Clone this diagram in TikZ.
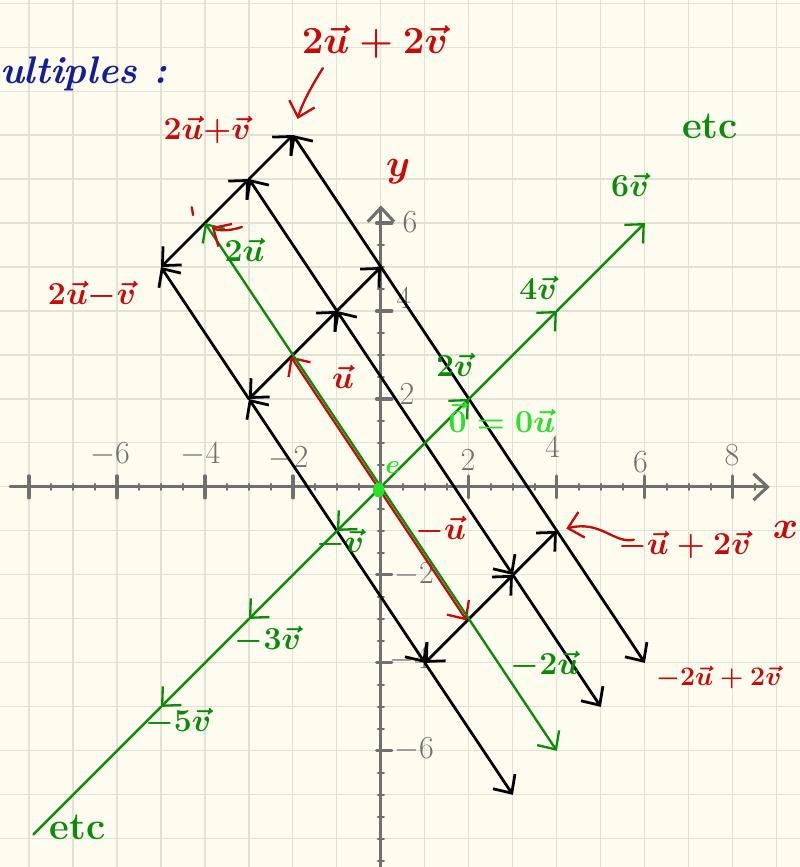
\documentclass[tikz,border=0pt]{standalone}
\usetikzlibrary{arrows.meta}

\definecolor{paper}{RGB}{253,252,238}
\definecolor{gridc}{RGB}{226,225,214}
\definecolor{axgray}{RGB}{112,112,112}
\definecolor{ired}{RGB}{200,10,10}
\definecolor{igreen}{RGB}{10,140,10}
\definecolor{lgreen}{RGB}{40,225,40}
\definecolor{iblue}{RGB}{20,30,150}

\begin{document}
\begin{tikzpicture}[line cap=round,line join=round,inner sep=1pt,
    tip/.style={-{Straight Barb[length=3.2mm,width=6mm]}},
    blk/.style={draw=black,line width=1.8pt},
    grn/.style={draw=igreen,line width=1.5pt},
    rd/.style={draw=ired,line width=1.5pt},
    axis/.style={draw=axgray,line width=2pt},
    redlab/.style={text=ired,font=\huge\boldmath},
    grnlab/.style={text=igreen,font=\huge\boldmath},
    ticklab/.style={text=axgray,font=\huge}]
    %
    \useasboundingbox (-8.66,-8.64) rectangle (9.52,11.07);
    \fill[paper] (-8.66,-8.64) rectangle (9.52,11.07);
    \draw[gridc,line width=0.7pt] (-8.66,-8.64) grid (9.52,11.07);
    %
    % axes
    \draw[axis,tip] (-8.43,0) -- (8.84,0);
    \draw[axis,tip] (0,-8.7) -- (0,6.4);
    \foreach \x in {-8,-6,...,8}
        \draw[axis] (\x,-0.25) -- (\x,0.25);
    \foreach \x in {-8,-7.5,...,8.5}
        \draw[axis,line width=1.2pt] (\x,-0.07) -- (\x,0.07);
    \foreach \y in {-6,-4,-2,2,4,6}
        \draw[axis] (-0.1,\y) -- (0.25,\y);
    \foreach \y in {-8.5,-8,...,6}
        \draw[axis,line width=1.2pt] (-0.07,\y) -- (0.07,\y);
    \node[ticklab] (tx1) at (-6.16,0.73) {$-6$};
    \node[ticklab] (tx2) at (-4.1,0.73) {$-4$};
    \node[ticklab] (tx3) at (-2.1,0.65) {$-2$};
    \node[ticklab] (tx4) at (1.98,0.61) {$2$};
    \node[ticklab] (tx5) at (3.9,0.9) {$4$};
    \node[ticklab] (tx6) at (5.9,0.57) {$6$};
    \node[ticklab] (tx7) at (7.98,0.73) {$8$};
    \node[ticklab] (ty1) at (0.66,6.02) {$6$};
    \node[ticklab] (ty2) at (0.52,4.3) {$4$};
    \node[ticklab] (ty3) at (0.59,2.1) {$2$};
    \node[ticklab] (ty4) at (0.75,-2.0) {$-2$};
    \node[ticklab] (ty5) at (0.65,-3.93) {$-4$};
    \node[ticklab] (ty6) at (0.75,-5.98) {$-6$};
    \node[text=ired,font=\Huge\boldmath] (ylab) at (0.39,7.16) {$y$};
    \node[text=ired,font=\Huge\boldmath] (xlab) at (9.2,-0.98) {$x$};
    %
    \node[text=iblue,font=\Huge\itshape\bfseries,anchor=west] (title) at (-8.7,9.4) {ultiples :};
    %
    \coordinate (O) at (0,0);
    \coordinate (A22) at (-2,8);
    \coordinate (A21) at (-3,7);
    \coordinate (A20) at (-4,6);
    \coordinate (A2n) at (-5,5);
    \coordinate (A12) at (0,5);
    \coordinate (A11) at (-1,4);
    \coordinate (A10) at (-2,3);
    \coordinate (A1n) at (-3,2);
    \coordinate (B12) at (4,-1);
    \coordinate (B11) at (3,-2);
    \coordinate (B10) at (2,-3);
    \coordinate (B1n) at (1,-4);
    \coordinate (B22) at (6,-4);
    \coordinate (B21) at (5,-5);
    \coordinate (B20) at (4,-6);
    \coordinate (B2n) at (3,-7);
    \coordinate (V1) at (1,1);
    \coordinate (V2) at (2,2);
    \coordinate (V4) at (4,4);
    \coordinate (V6) at (6,6);
    \coordinate (W1) at (-1,-1);
    \coordinate (W3) at (-3,-3);
    \coordinate (W5) at (-5,-5);
    \coordinate (W8) at (-7.9,-7.9);
    %
    % lines along u
    \draw[blk,tip] (V2) -- (A22);
    \draw[blk,tip] (V2) -- (B22);
    \draw[blk,tip] (V1) -- (A11);
    \draw[blk,tip] (A11) -- (A21);
    \draw[blk,tip] (V1) -- (B11);
    \draw[blk,tip] (B11) -- (B21);
    \draw[blk,tip] (W1) -- (A1n);
    \draw[blk,tip] (A1n) -- (A2n);
    \draw[blk,tip] (W1) -- (B1n);
    \draw[blk,tip] (B1n) -- (B2n);
    %
    % steps along v
    \draw[blk,tip] (A20) -- (A21);
    \draw[blk,tip] (A21) -- (A22);
    \draw[blk,tip] (A20) -- (A2n);
    \draw[blk,tip] (A10) -- (A11);
    \draw[blk,tip] (A11) -- (A12);
    \draw[blk,tip] (A10) -- (A1n);
    \draw[blk,tip] (B10) -- (B11);
    \draw[blk,tip] (B11) -- (B12);
    \draw[blk,tip] (B10) -- (B1n);
    %
    \begin{scope}[transform canvas={shift={(-0.05,-0.035)}}]
        \draw[rd,tip] (O) -- (A10);
        \draw[rd,tip] (O) -- (B10);
    \end{scope}
    \draw[grn,tip] (O) -- (A20);
    \draw[grn,tip] (O) -- (B20);
    %
    \draw[grn,tip] (O) -- (V2);
    \draw[grn,tip] (V2) -- (V4);
    \draw[grn,tip] (V4) -- (V6);
    \draw[grn,tip] (O) -- (W1);
    \draw[grn,tip] (W1) -- (W3);
    \draw[grn,tip] (W3) -- (W5);
    \draw[grn] (W5) -- (W8);
    \fill[lgreen] (-0.05,-0.07) ellipse (0.13 and 0.17);
    %
    % labels
    \node[redlab,font=\Huge\boldmath] (l22) at (-0.14,10.11) {$2\vec{u}+2\vec{v}$};
    \node[redlab] (l21) at (-3.95,8.11) {$2\vec{u}{+}\vec{v}$};
    \node[redlab] (l2n) at (-6.57,4.36) {$2\vec{u}{-}\vec{v}$};
    \node[redlab] (l10) at (-0.86,2.5) {$\vec{u}$};
    \node[redlab] (lm10) at (1.36,-0.98) {$-\vec{u}$};
    \node[redlab] (lm12) at (6.9,-1.32) {$-\vec{u}+2\vec{v}$};
    \node[redlab,font=\LARGE\boldmath] (lm22) at (7.68,-4.34) {$-2\vec{u}+2\vec{v}$};
    \node[grnlab] (l20) at (-3.1,5.39) {$2\vec{u}$};
    \node[grnlab] (lm20) at (3.73,-4.05) {$-2\vec{u}$};
    \node[grnlab] (lv2) at (1.68,2.78) {$2\vec{v}$};
    \node[grnlab] (lv4) at (3.57,4.52) {$4\vec{v}$};
    \node[grnlab] (lv6) at (5.66,6.86) {$6\vec{v}$};
    \node[grnlab] (lw1) at (-0.93,-1.27) {$-\vec{v}$};
    \node[grnlab] (lw3) at (-2.57,-3.48) {$-3\vec{v}$};
    \node[grnlab] (lw5) at (-4.61,-5.34) {$-5\vec{v}$};
    \node[grnlab,font=\Huge\bfseries] (etc1) at (7.48,8.2) {etc};
    \node[grnlab,font=\Huge\bfseries] (etc2) at (-6.89,-7.73) {etc};
    \node[text=lgreen,font=\huge\boldmath] (lzero) at (2.75,1.58) {$\vec{0}=0\vec{u}$};
    \node[text=lgreen,font=\LARGE\boldmath] (lorig) at (0.27,0.45) {$e$};
    %
    % red pointers
    \coordinate (p22) at (-1.32,9.52);
    \coordinate (p20) at (-3.16,5.91);
    \coordinate (pm12) at (5.75,-1.2);
    \draw[rd,tip,shorten >=0.38cm] (p22) to[bend right=8] (A22);
    \draw[rd,tip,shorten >=0.18cm] (p20) to[bend left=25] (A20);
    \draw[rd] (-4.3,6.36) -- (-4.27,6.18);
    \draw[rd,tip,shorten >=0.22cm] (pm12) .. controls (5.3,-1.3) and (5.0,-0.75) .. (B12);
    %
\end{tikzpicture}
\end{document}
